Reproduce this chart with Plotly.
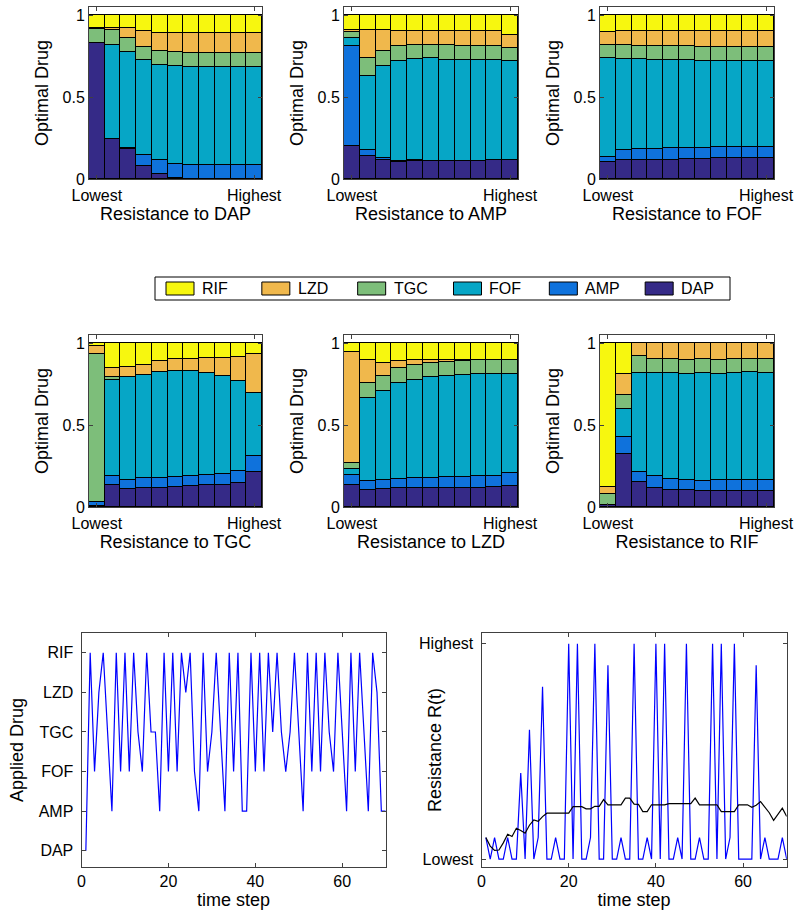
import plotly.graph_objects as go

# Drug order from bottom of each stack to the top
drugs = ["DAP", "AMP", "FOF", "TGC", "LZD", "RIF"]
drug_colors = {
    "DAP": "#352a87",
    "AMP": "#0f72dc",
    "FOF": "#06a6c6",
    "TGC": "#7dbe7a",
    "LZD": "#f0b84c",
    "RIF": "#f7f70f",
}

# Resistance levels (x positions of the bars) and their tick labels
res_levels = list(range(1, 12))
res_tickvals = [1, 11]
res_ticktext = ["Lowest", "Highest"]

# Share of each optimal drug at each resistance level, one panel per drug
opt_vs_dap = {
    "DAP": [0.830, 0.243, 0.182, 0.081, 0.032, 0.008, 0, 0, 0, 0, 0],
    "AMP": [0, 0, 0.010, 0.065, 0.081, 0.085, 0.087, 0.087, 0.087, 0.087, 0.087],
    "FOF": [0, 0.577, 0.581, 0.579, 0.583, 0.597, 0.599, 0.599, 0.599, 0.599, 0.599],
    "TGC": [0.085, 0.089, 0.085, 0.081, 0.083, 0.083, 0.083, 0.083, 0.083, 0.083, 0.083],
    "LZD": [0.004, 0.010, 0.061, 0.099, 0.111, 0.117, 0.121, 0.121, 0.121, 0.121, 0.121],
    "RIF": [0.081, 0.081, 0.081, 0.095, 0.109, 0.109, 0.109, 0.109, 0.109, 0.109, 0.109],
}
opt_vs_amp = {
    "DAP": [0.200, 0.142, 0.113, 0.105, 0.110, 0.111, 0.111, 0.111, 0.111, 0.113, 0.115],
    "AMP": [0.611, 0.038, 0.018, 0.006, 0.004, 0, 0, 0, 0, 0, 0],
    "FOF": [0.049, 0.451, 0.557, 0.611, 0.621, 0.626, 0.617, 0.615, 0.615, 0.611, 0.605],
    "TGC": [0.038, 0.105, 0.091, 0.089, 0.085, 0.083, 0.089, 0.087, 0.085, 0.087, 0.081],
    "LZD": [0.010, 0.174, 0.130, 0.093, 0.085, 0.085, 0.087, 0.091, 0.093, 0.093, 0.081],
    "RIF": [0.091, 0.089, 0.091, 0.095, 0.095, 0.095, 0.095, 0.095, 0.095, 0.095, 0.117],
}
opt_vs_fof = {
    "DAP": [0.105, 0.113, 0.115, 0.119, 0.119, 0.123, 0.123, 0.126, 0.126, 0.126, 0.128],
    "AMP": [0.028, 0.065, 0.067, 0.065, 0.069, 0.065, 0.067, 0.067, 0.067, 0.067, 0.069],
    "FOF": [0.605, 0.557, 0.549, 0.543, 0.538, 0.536, 0.532, 0.528, 0.530, 0.528, 0.522],
    "TGC": [0.081, 0.083, 0.083, 0.085, 0.085, 0.085, 0.085, 0.087, 0.085, 0.085, 0.085],
    "LZD": [0.079, 0.085, 0.089, 0.091, 0.091, 0.093, 0.095, 0.095, 0.095, 0.097, 0.099],
    "RIF": [0.101, 0.097, 0.097, 0.097, 0.097, 0.097, 0.097, 0.097, 0.097, 0.097, 0.097],
}
opt_vs_tgc = {
    "DAP": [0.004, 0.134, 0.112, 0.116, 0.118, 0.124, 0.126, 0.132, 0.136, 0.146, 0.211],
    "AMP": [0.028, 0.055, 0.051, 0.059, 0.061, 0.059, 0.061, 0.061, 0.063, 0.073, 0.098],
    "FOF": [0, 0.589, 0.628, 0.628, 0.646, 0.650, 0.642, 0.624, 0.598, 0.551, 0.388],
    "TGC": [0.902, 0.018, 0.004, 0, 0, 0, 0, 0, 0, 0, 0],
    "LZD": [0.049, 0.053, 0.059, 0.061, 0.069, 0.069, 0.077, 0.091, 0.114, 0.144, 0.234],
    "RIF": [0.016, 0.150, 0.146, 0.136, 0.106, 0.098, 0.093, 0.091, 0.089, 0.085, 0.069],
}
opt_vs_lzd = {
    "DAP": [0.134, 0.105, 0.109, 0.113, 0.115, 0.117, 0.117, 0.117, 0.117, 0.121, 0.130],
    "AMP": [0.061, 0.055, 0.055, 0.057, 0.061, 0.063, 0.065, 0.069, 0.071, 0.071, 0.075],
    "FOF": [0.038, 0.506, 0.545, 0.589, 0.601, 0.613, 0.619, 0.617, 0.621, 0.621, 0.609],
    "TGC": [0.034, 0.093, 0.089, 0.091, 0.089, 0.087, 0.087, 0.089, 0.087, 0.085, 0.085],
    "LZD": [0.682, 0.136, 0.083, 0.043, 0.032, 0.020, 0.010, 0.006, 0.002, 0, 0],
    "RIF": [0.051, 0.105, 0.119, 0.107, 0.101, 0.099, 0.101, 0.101, 0.103, 0.101, 0.101],
}
opt_vs_rif = {
    "DAP": [0.014, 0.322, 0.152, 0.115, 0.103, 0.101, 0.097, 0.099, 0.099, 0.097, 0.097],
    "AMP": [0, 0.107, 0.059, 0.073, 0.069, 0.061, 0.061, 0.063, 0.063, 0.065, 0.065],
    "FOF": [0, 0.170, 0.609, 0.632, 0.648, 0.648, 0.662, 0.652, 0.656, 0.662, 0.658],
    "TGC": [0.067, 0.083, 0.099, 0.085, 0.085, 0.087, 0.081, 0.083, 0.085, 0.077, 0.081],
    "LZD": [0.040, 0.132, 0.081, 0.095, 0.095, 0.103, 0.099, 0.103, 0.097, 0.099, 0.099],
    "RIF": [0.879, 0.186, 0, 0, 0, 0, 0, 0, 0, 0, 0],
}

# Simulated treatment course
time_steps = list(range(1, 71))
applied_drug = [
    "DAP", "RIF", "FOF", "LZD", "RIF", "TGC", "AMP", "RIF", "FOF", "RIF",
    "FOF", "RIF", "TGC", "FOF", "RIF", "TGC", "TGC", "AMP", "RIF", "FOF",
    "RIF", "FOF", "RIF", "LZD", "RIF", "FOF", "AMP", "RIF", "FOF", "TGC",
    "RIF", "TGC", "AMP", "RIF", "FOF", "RIF", "AMP", "AMP", "RIF", "FOF",
    "RIF", "FOF", "RIF", "TGC", "RIF", "TGC", "FOF", "TGC", "RIF", "TGC",
    "AMP", "RIF", "FOF", "RIF", "FOF", "RIF", "TGC", "FOF", "RIF", "TGC",
    "AMP", "RIF", "FOF", "RIF", "TGC", "AMP", "RIF", "LZD", "AMP", "AMP",
]
resistance = [
    0.1, 0, 0.1, 0, 0, 0.1, 0, 0, 0.4, 0,
    0.6, 0, 0.1, 0.8, 0, 0, 0.1, 0, 0, 1,
    0, 1, 0, 0, 0.1, 1, 0, 0, 0.9, 0,
    0, 0.1, 0, 0, 1, 0, 0, 0.1, 0, 1,
    0, 1, 0, 0, 0.1, 0, 1, 0, 0, 0.1,
    0, 0, 1, 0, 1, 0, 0.1, 1, 0, 0,
    0, 0, 0.9, 0, 0.1, 0, 0, 0, 0.1, 0,
]
mean_resistance = [
    0.100, 0.060, 0.040, 0.042, 0.075, 0.115, 0.105, 0.143, 0.133, 0.120,
    0.157, 0.182, 0.175, 0.197, 0.213, 0.213, 0.213, 0.213, 0.213, 0.213,
    0.243, 0.243, 0.243, 0.233, 0.233, 0.245, 0.245, 0.276, 0.252, 0.252,
    0.252, 0.252, 0.283, 0.283, 0.255, 0.254, 0.220, 0.220, 0.252, 0.252,
    0.252, 0.252, 0.257, 0.257, 0.257, 0.257, 0.257, 0.257, 0.283, 0.252,
    0.252, 0.252, 0.252, 0.252, 0.220, 0.220, 0.220, 0.220, 0.252, 0.252,
    0.252, 0.240, 0.250, 0.267, 0.240, 0.215, 0.180, 0.210, 0.236, 0.198,
]

W, H = 799, 922
FONT = "Liberation Sans, Arial, Helvetica, sans-serif"
AXCOL = "#404040"
TICK_SIZE = 16
TITLE_SIZE = 18


def xdom(x0, x1):
    return [x0 / W, x1 / W]


def ydom(top, bottom):
    return [1 - bottom / H, 1 - top / H]


def title(text, standoff):
    return dict(text=text, standoff=standoff,
                font=dict(family=FONT, size=TITLE_SIZE, color="#000"))


bar_panels = [
    ("DAP", opt_vs_dap, xdom(89, 262), ydom(7, 179)),
    ("AMP", opt_vs_amp, xdom(344, 518), ydom(7, 179)),
    ("FOF", opt_vs_fof, xdom(600, 774), ydom(7, 179)),
    ("TGC", opt_vs_tgc, xdom(89, 262), ydom(335, 507)),
    ("LZD", opt_vs_lzd, xdom(344, 518), ydom(335, 507)),
    ("RIF", opt_vs_rif, xdom(600, 774), ydom(335, 507)),
]

fig = go.Figure()
layout = {}

common_axis = dict(
    showline=True, mirror="ticks", linecolor=AXCOL, linewidth=1,
    ticks="inside", ticklen=4, tickcolor=AXCOL, showgrid=False, zeroline=False,
    tickfont=dict(family=FONT, size=TICK_SIZE, color="#000"),
)

for i, (name, shares, xd, yd) in enumerate(bar_panels, start=1):
    xa = "x" if i == 1 else f"x{i}"
    ya = "y" if i == 1 else f"y{i}"
    for d in drugs:
        fig.add_trace(go.Bar(
            x=res_levels, y=shares[d], name=d, xaxis=xa, yaxis=ya,
            marker=dict(color=drug_colors[d], line=dict(color="#000", width=1)),
            width=1, showlegend=False,
        ))
    layout[f"xaxis{'' if i == 1 else i}"] = dict(
        common_axis, domain=xd, anchor=ya, range=[0.5, 11.5],
        tickvals=res_tickvals, ticktext=res_ticktext, ticklabelstandoff=2,
        title=title(f"Resistance to {name}", 0),
    )
    layout[f"yaxis{'' if i == 1 else i}"] = dict(
        common_axis, domain=yd, anchor=xa, range=[0, 1.05],
        tickvals=[0, 0.5, 1], ticktext=["0", "0.5", "1"],
        title=title("Optimal Drug", 9),
    )

# Applied drug over time
drug_level = {d: k + 1 for k, d in enumerate(drugs)}
fig.add_trace(go.Scatter(
    x=time_steps, y=[drug_level[d] for d in applied_drug], mode="lines",
    line=dict(color="#0000ff", width=1.2), xaxis="x7", yaxis="y7", showlegend=False,
))
layout["xaxis7"] = dict(
    common_axis, domain=xdom(81.5, 385.7), anchor="y7", range=[0, 70],
    tickvals=[0, 20, 40, 60], title=title("time step", 4),
)
layout["yaxis7"] = dict(
    common_axis, domain=ydom(633, 867), anchor="x7", range=[0.59, 6.5],
    tickvals=list(range(1, 7)), ticktext=drugs, title=title("Applied Drug", 10),
    ticklabelstandoff=4,
)

# Resistance over time
fig.add_trace(go.Scatter(
    x=time_steps, y=resistance, mode="lines",
    line=dict(color="#0000ff", width=1.2), xaxis="x8", yaxis="y8", showlegend=False,
))
fig.add_trace(go.Scatter(
    x=time_steps, y=mean_resistance, mode="lines",
    line=dict(color="#000000", width=1.2), xaxis="x8", yaxis="y8", showlegend=False,
))
layout["xaxis8"] = dict(
    common_axis, domain=xdom(481.5, 786.7), anchor="y8", range=[0, 70],
    tickvals=[0, 20, 40, 60], title=title("time step", 4),
)
layout["yaxis8"] = dict(
    common_axis, domain=ydom(633, 867), anchor="x8", range=[-0.037, 1.05],
    tickvals=[0, 1], ticktext=["Lowest", "Highest"], ticklabelstandoff=4,
)

shapes = []
annotations = [
    # y title of the resistance plot sits between its two tick labels
    dict(text="Resistance R(t)", x=435 / W, y=1 - 750 / H, xref="paper", yref="paper",
         textangle=-90, showarrow=False, xanchor="center", yanchor="middle",
         font=dict(family=FONT, size=TITLE_SIZE, color="#000")),
]

# Shared legend for the stacked bars: drugs listed from top of stack to bottom
LEG_X0, LEG_X1, LEG_TOP, LEG_BOT = 155, 730, 277, 300
shapes.append(dict(type="rect", xref="paper", yref="paper",
                   x0=LEG_X0 / W, x1=LEG_X1 / W, y0=1 - LEG_BOT / H, y1=1 - LEG_TOP / H,
                   line=dict(color="#000", width=1), fillcolor="white", layer="below"))
step = (LEG_X1 - LEG_X0) / len(drugs)
for k, d in enumerate(reversed(drugs)):
    sx0 = LEG_X0 + 11 + k * step
    shapes.append(dict(type="rect", xref="paper", yref="paper",
                       x0=sx0 / W, x1=(sx0 + 28) / W,
                       y0=1 - (LEG_BOT - 5) / H, y1=1 - (LEG_TOP + 5) / H,
                       line=dict(color="#000", width=1), fillcolor=drug_colors[d]))
    annotations.append(dict(text=d, x=(sx0 + 34) / W, y=1 - (LEG_TOP + LEG_BOT) / 2 / H,
                            xref="paper", yref="paper", showarrow=False,
                            xanchor="left", yanchor="middle",
                            font=dict(family=FONT, size=16, color="#000")))

fig.update_layout(
    **layout,
    shapes=shapes, annotations=annotations,
    width=W, height=H, margin=dict(l=0, r=0, t=0, b=0, autoexpand=False),
    paper_bgcolor="white", plot_bgcolor="white",
    barmode="stack", bargap=0, showlegend=False,
    font=dict(family=FONT, color="#000"),
)

fig.write_html("out.html")
